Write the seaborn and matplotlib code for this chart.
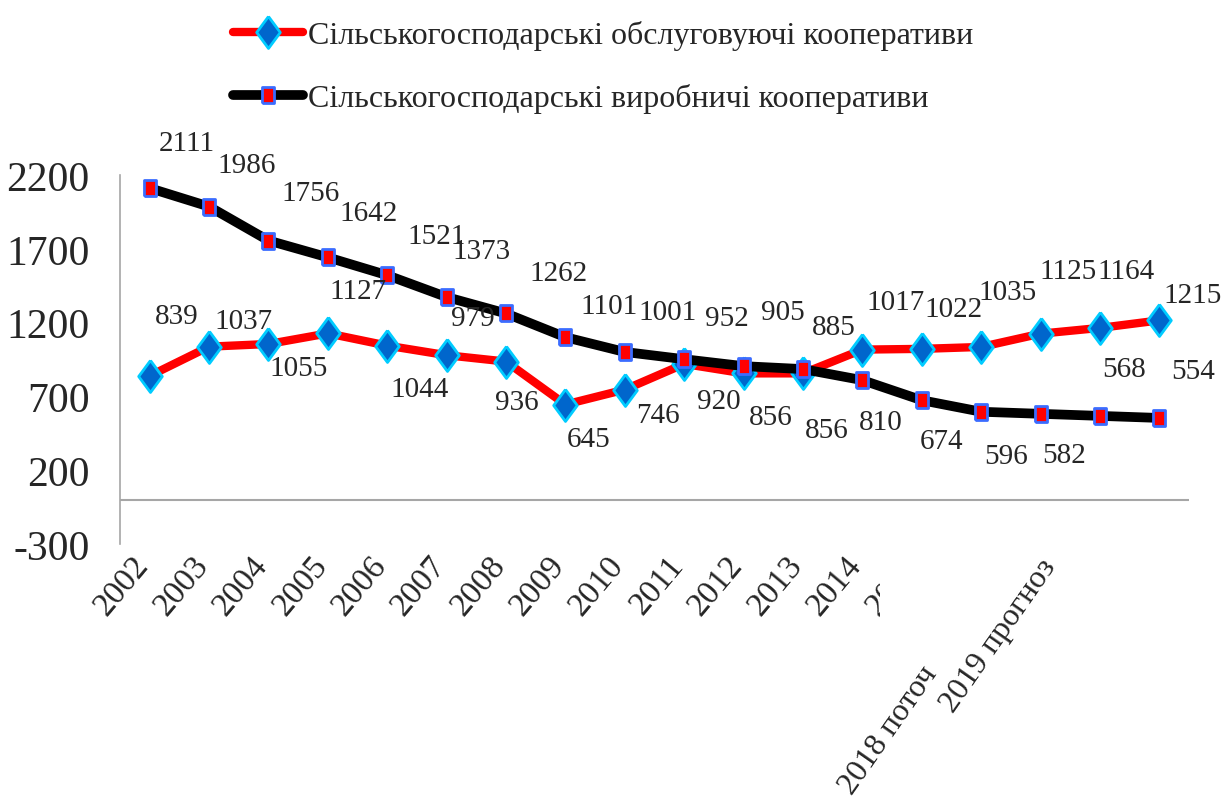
import matplotlib
matplotlib.use("Agg")
import matplotlib.pyplot as plt
import numpy as np
import pandas as pd
import seaborn as sns
from matplotlib.transforms import Bbox

# ---------------- data ----------------
categories = ["2002", "2003", "2004", "2005", "2006", "2007", "2008", "2009",
              "2010", "2011", "2012", "2013", "2014", "2015", "2016", "2017",
              "2018 поточ", "2019 прогноз"]
service_coops = [839, 1037, 1055, 1127, 1044, 979, 936, 645, 746, 920, 856,
                 856, 1017, 1022, 1035, 1125, 1164, 1215]
production_coops = [2111, 1986, 1756, 1642, 1521, 1373, 1262, 1101, 1001, 952,
                    905, 885, 810, 674, 596, 582, 568, 554]
series_names = ["Сільськогосподарські обслуговуючі кооперативи",
                "Сільськогосподарські виробничі кооперативи"]
y_ticks = [-300, 200, 700, 1200, 1700, 2200]

# label offsets in pixels (dx right, dy down) - layout only
service_label_off = [(27, -60), (34, -26), (30, 24), (30, -42), (32, 43), (26, -37),
                     (11, 40), (23, 34), (33, 25), (35, 37), (27, 44), (24, 57),
                     (33, -48), (32, -40), (26, -55), (28, -63), (26, -57), (33, -25)]
production_label_off = [(37, -45), (38, -42), (42, -48), (41, -44), (49, -39), (35, -46),
                        (52, -40), (44, -31), (43, -40), (43, -41), (39, -54), (31, -42),
                        (18, 42), (20, 41), (25, 44), (24, 41), (24, -47), (34, -47)]

df = pd.DataFrame({
    "Рік": categories * 2,
    "Кількість": service_coops + production_coops,
    "Серія": [series_names[0]] * len(categories) + [series_names[1]] * len(categories),
})

# ---------------- style ----------------
sns.set_theme(style="white")
plt.rcParams["font.family"] = ["Liberation Serif", "DejaVu Serif"]

W, H = 1231, 804
fig = plt.figure(figsize=(W / 100, H / 100), dpi=100)
ax = fig.add_axes([120 / W, 1 - 545 / H, (1189 - 120) / W, (545 - 176) / H])

diamond = [(0, 1), (0.74, 0), (0, -1), (-0.74, 0), (0, 1)]
rect = [(-0.72, -1), (0.72, -1), (0.72, 1), (-0.72, 1), (-0.72, -1)]

d1 = df[df["Серія"] == series_names[0]]
d2 = df[df["Серія"] == series_names[1]]

sns.lineplot(data=d1, x="Рік", y="Кількість", ax=ax, sort=False,
             color="#ff0000", linewidth=6, marker=diamond, markersize=23,
             markerfacecolor="#0066cc", markeredgecolor="#00ccff",
             markeredgewidth=2, label=series_names[0])
sns.lineplot(data=d2, x="Рік", y="Кількість", ax=ax, sort=False,
             color="#000000", linewidth=7, marker=rect, markersize=12,
             markerfacecolor="#ff0000", markeredgecolor="#3b6cff",
             markeredgewidth=2, label=series_names[1])

ax.set_xlim(-0.5, len(categories) - 0.5)
ax.set_ylim(-300, 2200)
ax.set_yticks(y_ticks)
ax.set_yticklabels([str(t) for t in y_ticks], fontsize=30)
ax.tick_params(axis="y", length=0, pad=22)
ax.set_xlabel("")
ax.set_ylabel("")

for s in ["top", "right", "bottom"]:
    ax.spines[s].set_visible(False)
ax.spines["left"].set_color("#a6a6a6")
ax.spines["left"].set_linewidth(1.2)
ax.axhline(0, color="#a6a6a6", linewidth=1.5, zorder=1)

# x tick labels
shown = [c if i <= 13 else "" for i, c in enumerate(categories)]
ax.set_xticks(range(len(categories)))
ax.set_xticklabels(shown, fontsize=24, rotation=50, ha="right", va="baseline",
                   rotation_mode="anchor")
ax.tick_params(axis="x", length=0, pad=15)
fig.canvas.draw()
lbl2015 = ax.get_xticklabels()[13]
lbl2015.set_clip_on(True)
lbl2015.set_clip_box(Bbox.from_extents(0, 0, 880, H))

# the last two labels, displaced as in the reference
for idx, (dx, dy) in [(16, (-162, -129)), (17, (-103, -22))]:
    ax.annotate(categories[idx], xy=(idx, 0), xycoords=("data", "axes fraction"),
                xytext=(dx, dy), textcoords="offset pixels",
                rotation=55, rotation_mode="anchor", ha="right", va="baseline",
                fontsize=23, annotation_clip=False)

# data labels
for i, v in enumerate(service_coops):
    dx, dy = service_label_off[i]
    ax.annotate(str(v), xy=(i, v), xytext=(dx, -dy), textcoords="offset pixels",
                ha="center", va="center", fontsize=21, annotation_clip=False)
for i, v in enumerate(production_coops):
    dx, dy = production_label_off[i]
    ax.annotate(str(v), xy=(i, v), xytext=(dx, -dy), textcoords="offset pixels",
                ha="center", va="center", fontsize=21, annotation_clip=False)

handles, labels = ax.get_legend_handles_labels()
if ax.get_legend() is not None:
    ax.get_legend().remove()
fig.legend(handles, labels, loc="upper left", bbox_to_anchor=(220 / W, 1 - 8 / H),
           frameon=False, fontsize=23, handlelength=2.2, handletextpad=0.15,
           labelspacing=1.05, borderaxespad=0)

fig.savefig("out.png", dpi=100)
